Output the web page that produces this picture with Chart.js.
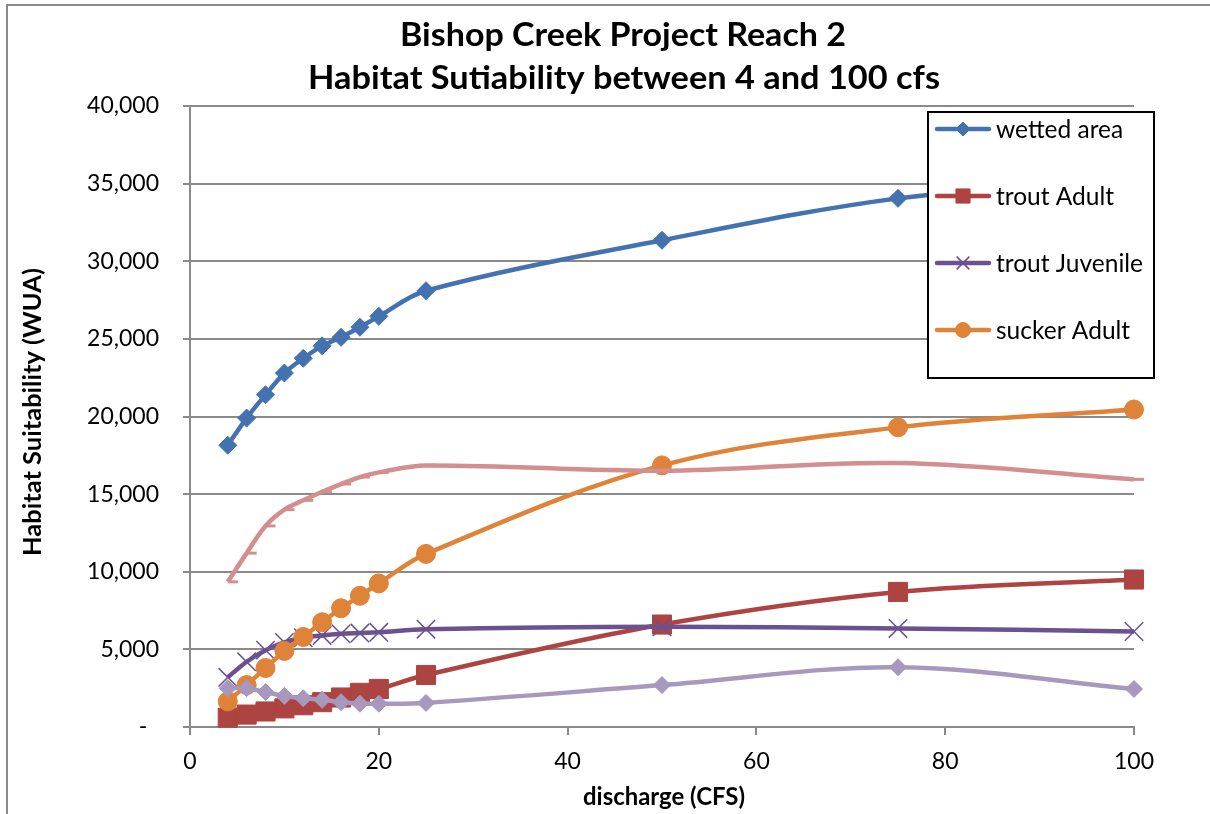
<!DOCTYPE html>
<html><head><meta charset="utf-8">
<script src="https://cdn.jsdelivr.net/npm/chart.js@4.4.1/dist/chart.umd.min.js"></script>
<style>html,body{margin:0;padding:0;background:#fff;} #wrap{width:1210px;height:814px;position:relative;}</style>
</head><body><div id="wrap"><canvas id="c" width="1210" height="814"></canvas></div>
<script>
const titleLines = ['Bishop Creek Project Reach 2', 'Habitat Sutiability between 4 and 100 cfs'];
const xTitle = 'discharge (CFS)';
const yTitle = 'Habitat Suitability (WUA)';
const legendLabels = ['wetted area', 'trout Adult', 'trout Juvenile', 'sucker Adult'];

const discharge     = [4, 6, 8, 10, 12, 14, 16, 18, 20, 25, 50, 75, 100];
const wettedArea    = [18150, 19900, 21400, 22800, 23750, 24550, 25100, 25750, 26450, 28100, 31350, 34050, 35300];
const troutAdult    = [600, 800, 1000, 1200, 1400, 1600, 1900, 2200, 2450, 3350, 6600, 8700, 9500];
const troutJuvenile = [3200, 4200, 4950, 5450, 5750, 5900, 6000, 6050, 6100, 6300, 6450, 6350, 6150];
const suckerAdult   = [1650, 2700, 3800, 4900, 5800, 6750, 7650, 8450, 9250, 11150, 16850, 19300, 20450];
const series5       = [9350, 11200, 12950, 14000, 14600, 15150, 15650, 16100, 16400, 16850, 16500, 17000, 15950];
const series6       = [2500, 2500, 2250, 2000, 1850, 1750, 1600, 1500, 1500, 1550, 2700, 3850, 2450];

const xMin = 0, xMax = 100, xStep = 20;
const yMin = 0, yMax = 40000, yStep = 5000;

const C = {
  blue: '#4472B0', red: '#AD4442', purple: '#6B5190', orange: '#DE8338',
  pink: '#D48E8E', lpurple: '#A698BE', grid: '#8A8A8A'
};
const FONT = 'Lato, "Open Sans", sans-serif';

function pts(arr){ return discharge.map((x, i) => ({x: x, y: arr[i]})); }

const styles = [
  {data: wettedArea, color: C.blue, ps: 'rectRot', r: 9, bw: 1, order: 5},
  {data: troutAdult, color: C.red, ps: 'rect', r: 13.5, bw: 1, order: 4},
  {data: troutJuvenile, color: C.purple, ps: 'crossRot', r: 13, bw: 1.5, order: 3},
  {data: suckerAdult, color: C.orange, ps: 'circle', r: 9.5, bw: 1, order: 2},
  {data: series5, color: C.pink, ps: 'dash', r: 10, bw: 3, order: 1},
  {data: series6, color: C.lpurple, ps: 'rectRot', r: 8.5, bw: 1, order: 0}
];
const names = legendLabels.concat(['', '']);

const datasets = styles.map((s, i) => ({
  label: names[i],
  data: pts(s.data),
  borderColor: s.color,
  backgroundColor: s.color,
  pointBackgroundColor: s.color,
  pointBorderColor: s.color,
  borderWidth: 4.5,
  pointStyle: s.ps,
  pointRadius: s.r,
  pointHoverRadius: s.r,
  pointBorderWidth: s.bw,
  tension: 0.35,
  fill: false,
  clip: false,
  order: s.order
}));

function drawMarker(ctx, style, x, y, r, color, bw){
  ctx.save();
  ctx.fillStyle = color; ctx.strokeStyle = color; ctx.lineWidth = bw;
  ctx.beginPath();
  if (style === 'rectRot'){
    ctx.moveTo(x - r, y); ctx.lineTo(x, y - r); ctx.lineTo(x + r, y); ctx.lineTo(x, y + r); ctx.closePath();
    ctx.fill(); ctx.stroke();
  } else if (style === 'rect'){
    const h = r * Math.SQRT1_2;
    ctx.rect(x - h, y - h, 2 * h, 2 * h); ctx.fill(); ctx.stroke();
  } else if (style === 'circle'){
    ctx.arc(x, y, r, 0, Math.PI * 2); ctx.fill(); ctx.stroke();
  } else if (style === 'crossRot'){
    const h = r * Math.SQRT1_2;
    ctx.moveTo(x - h, y - h); ctx.lineTo(x + h, y + h);
    ctx.moveTo(x - h, y + h); ctx.lineTo(x + h, y - h); ctx.stroke();
  }
  ctx.restore();
}

function fitText(ctx, text, x, y, targetW){
  const w = ctx.measureText(text).width;
  const k = targetW / w;
  ctx.save(); ctx.translate(x, y); ctx.scale(k, 1);
  ctx.fillText(text, 0, 0);
  ctx.restore();
}

const deco = {
  id: 'deco',
  beforeDraw(chart){
    const ctx = chart.ctx;
    ctx.save();
    ctx.fillStyle = '#fff'; ctx.fillRect(0, 0, chart.width, chart.height);
    ctx.strokeStyle = C.grid; ctx.lineWidth = 2;
    ctx.beginPath(); ctx.moveTo(7, chart.height); ctx.lineTo(7, 5); ctx.lineTo(chart.width, 5); ctx.stroke();
    ctx.restore();
  },
  afterDraw(chart){
    const ctx = chart.ctx;
    ctx.save();
    ctx.fillStyle = '#000';
    ctx.textAlign = 'center'; ctx.textBaseline = 'alphabetic';
    ctx.font = 'bold 33px ' + FONT;
    fitText(ctx, titleLines[0], 623, 46, 446);
    fitText(ctx, titleLines[1], 624, 89, 632);
    // x axis title
    ctx.font = 'bold 24px ' + FONT;
    fitText(ctx, xTitle, 664, 805, 162);
    // y axis title
    ctx.save();
    ctx.translate(41, 412); ctx.rotate(-Math.PI / 2);
    ctx.font = 'bold 25px ' + FONT;
    fitText(ctx, yTitle, 0, 0, 288);
    ctx.restore();
    // legend
    const L = {x: 928, y: 112, w: 226, h: 266};
    ctx.fillStyle = '#fff'; ctx.fillRect(L.x, L.y, L.w, L.h);
    ctx.strokeStyle = '#000'; ctx.lineWidth = 2; ctx.strokeRect(L.x, L.y, L.w, L.h);
    const rows = [129, 196, 263, 330];
    const lr = [7, 10, 9, 7.5];
    ctx.font = '24.5px ' + FONT; ctx.textAlign = 'left'; ctx.textBaseline = 'middle';
    for (let i = 0; i < 4; i++){
      const s = styles[i], y = rows[i];
      ctx.strokeStyle = s.color; ctx.lineWidth = 4.5; ctx.lineCap = 'round';
      ctx.beginPath(); ctx.moveTo(937, y); ctx.lineTo(989, y); ctx.stroke();
      ctx.lineCap = 'butt';
      drawMarker(ctx, s.ps, 963, y, lr[i], s.color, s.bw);
      ctx.fillStyle = '#000';
      ctx.fillText(legendLabels[i], 996, y + 1);
    }
    ctx.restore();
  }
};

new Chart(document.getElementById('c'), {
  type: 'line',
  data: {datasets: datasets},
  plugins: [deco],
  options: {
    responsive: false,
    animation: false,
    events: [],
    layout: {padding: {top: 106, right: 76, left: 0, bottom: 0}},
    plugins: {legend: {display: false}, title: {display: false}, tooltip: {enabled: false}},
    scales: {
      x: {
        type: 'linear', min: xMin, max: xMax,
        ticks: {stepSize: xStep, color: '#000', font: {family: FONT, size: 23}, padding: 13, maxRotation: 0},
        grid: {drawOnChartArea: false, drawTicks: true, tickLength: 8, color: C.grid, lineWidth: 2},
        border: {color: C.grid, width: 2},
        afterFit(scale){ scale.height = 87; }
      },
      y: {
        type: 'linear', min: yMin, max: yMax,
        ticks: {stepSize: yStep, color: '#000', font: {family: FONT, size: 23}, padding: 24,
          callback: v => v === 0 ? '-  ' : v.toLocaleString('en-US')},
        grid: {color: C.grid, lineWidth: 2, tickLength: 7},
        border: {color: C.grid, width: 2},
        afterFit(scale){ scale.width = 190; }
      }
    }
  }
});
</script>
</body></html>
